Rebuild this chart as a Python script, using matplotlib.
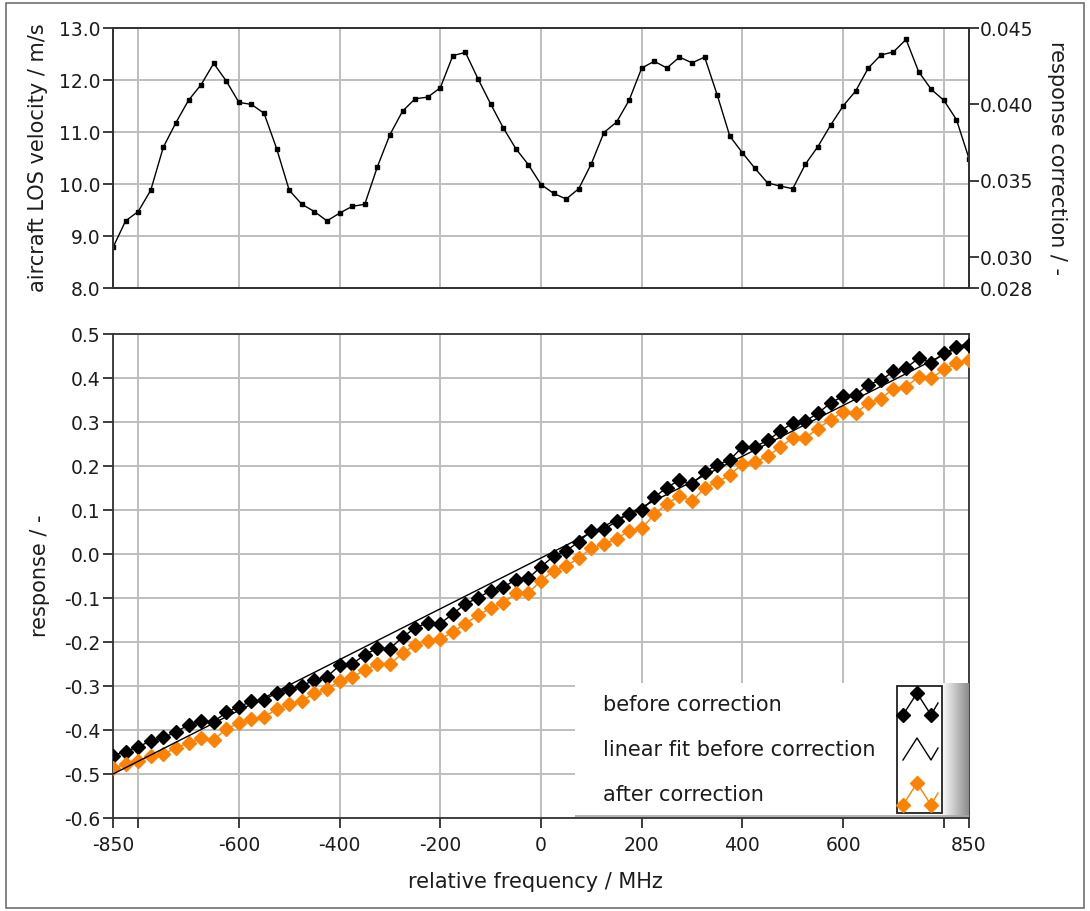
import matplotlib
matplotlib.use('Agg')
import matplotlib.pyplot as plt
import numpy as np
from matplotlib.patches import Rectangle

# relative frequency / MHz (25 MHz steps)
freq = np.arange(-850, 851, 25)

# aircraft LOS velocity / m/s
velocity = [8.78, 9.29, 9.47, 9.88, 10.71, 11.18, 11.61, 11.91, 12.32, 11.98,
            11.57, 11.53, 11.36, 10.68, 9.88, 9.61, 9.47, 9.29, 9.44, 9.57,
            9.61, 10.33, 10.95, 11.40, 11.64, 11.67, 11.85, 12.47, 12.53, 12.02,
            11.54, 11.08, 10.68, 10.37, 9.99, 9.82, 9.71, 9.91, 10.39, 10.99,
            11.19, 11.61, 12.23, 12.36, 12.23, 12.44, 12.33, 12.44, 11.71, 10.92,
            10.60, 10.30, 10.02, 9.96, 9.91, 10.38, 10.72, 11.13, 11.50, 11.79,
            12.23, 12.48, 12.54, 12.78, 12.16, 11.82, 11.61, 11.24, 10.49]

# response before correction
before = [-0.458, -0.449, -0.438, -0.425, -0.417, -0.405, -0.388, -0.380, -0.381, -0.360,
          -0.347, -0.335, -0.332, -0.315, -0.306, -0.300, -0.286, -0.279, -0.253, -0.250,
          -0.229, -0.214, -0.215, -0.189, -0.168, -0.156, -0.158, -0.136, -0.113, -0.100,
          -0.083, -0.076, -0.058, -0.055, -0.029, -0.005, 0.007, 0.028, 0.053, 0.056,
          0.074, 0.092, 0.099, 0.129, 0.151, 0.168, 0.158, 0.186, 0.203, 0.214,
          0.243, 0.244, 0.258, 0.279, 0.298, 0.302, 0.320, 0.343, 0.359, 0.361,
          0.385, 0.395, 0.415, 0.423, 0.445, 0.435, 0.456, 0.470, 0.476]

# response after correction
after = [-0.487, -0.478, -0.471, -0.460, -0.455, -0.441, -0.429, -0.419, -0.423, -0.397,
         -0.385, -0.376, -0.370, -0.353, -0.342, -0.333, -0.317, -0.307, -0.288, -0.280,
         -0.264, -0.250, -0.250, -0.226, -0.206, -0.198, -0.194, -0.177, -0.158, -0.139,
         -0.123, -0.111, -0.089, -0.088, -0.061, -0.038, -0.027, -0.010, 0.014, 0.022,
         0.034, 0.053, 0.058, 0.090, 0.114, 0.132, 0.120, 0.150, 0.164, 0.179,
         0.205, 0.209, 0.222, 0.243, 0.264, 0.264, 0.285, 0.305, 0.323, 0.320,
         0.343, 0.353, 0.376, 0.380, 0.403, 0.399, 0.420, 0.433, 0.441]

# linear fit before correction (end points)
fit_x = [-850, 850]
fit_y = [-0.500, 0.482]

x_ticks = [-850, -800, -600, -400, -200, 0, 200, 400, 600, 800, 850]
x_labels = ['-850', '', '-600', '-400', '-200', '0', '200', '400', '600', '', '850']
vel_ticks = [8, 9, 10, 11, 12, 13]
corr_ticks = [0.028, 0.030, 0.035, 0.040, 0.045]
resp_ticks = [-0.6, -0.5, -0.4, -0.3, -0.2, -0.1, 0.0, 0.1, 0.2, 0.3, 0.4, 0.5]
legend_labels = ['before correction', 'linear fit before correction', 'after correction']

W, H = 1090, 911
ORANGE = '#fd8204'
GRID = '#bebebe'
TXT = '#1c1c1c'
TICK_FS = 13.5
TITLE_FS = 15


def px_rect(l, t, r, b):
    return [l / W, 1 - b / H, (r - l) / W, (b - t) / H]


plt.rcParams['font.family'] = ['DejaVu Sans']
plt.rcParams['font.size'] = TICK_FS

fig = plt.figure(figsize=(W / 100, H / 100), dpi=100)
fig.patches.append(Rectangle((6 / W, 3 / H), 1 - 12 / W, 1 - 6 / H,
                             transform=fig.transFigure, fill=False,
                             ec='#707070', lw=1.2))

# ---- top panel: velocity / response correction
ax1 = fig.add_axes(px_rect(113, 28, 969, 288))
ax1.plot(freq, velocity, color='black', lw=1, marker='s', ms=3)
ax1.set_xlim(-850, 850)
ax1.set_ylim(8, 13)
ax1.set_xticks(x_ticks)
ax1.tick_params(axis='x', length=0, labelbottom=False)
ax1.set_yticks(vel_ticks)
ax1.set_yticklabels(['%.1f' % v for v in vel_ticks])
ax1.tick_params(axis='y', direction='out', length=7, width=1.2, colors=TXT, pad=2)
ax1.grid(True, color=GRID, lw=1.4)
ax1.set_axisbelow(True)

ax1r = ax1.twinx()
ax1r.set_ylim(0.028, 0.045)
ax1r.set_yticks(corr_ticks)
ax1r.set_yticklabels(['%.3f' % v for v in corr_ticks])
ax1r.tick_params(axis='y', direction='out', length=7, width=1.2, colors=TXT, pad=1)
for ax in (ax1, ax1r):
    for s in ax.spines.values():
        s.set_color('#333333')
        s.set_linewidth(1.3)

# ---- bottom panel: response
ax2 = fig.add_axes(px_rect(113, 334, 969, 818))
ax2.plot(freq, before, color='black', lw=1, marker='D', ms=7.5, zorder=3)
ax2.plot(fit_x, fit_y, color='black', lw=1, zorder=4)
ax2.plot(freq, after, color=ORANGE, lw=1, marker='D', ms=7.5, zorder=3)
ax2.set_xlim(-850, 850)
ax2.set_ylim(-0.6, 0.5)
ax2.set_xticks(x_ticks)
ax2.set_xticklabels(x_labels)
ax2.set_yticks(resp_ticks)
ax2.set_yticklabels(['%.1f' % v for v in resp_ticks])
ax2.tick_params(direction='out', length=7, width=1.2, colors=TXT)
ax2.tick_params(axis='x', pad=6)
ax2.tick_params(axis='y', pad=2)
ax2.grid(True, color=GRID, lw=1.4)
ax2.set_axisbelow(True)
for s in ax2.spines.values():
    s.set_color('#333333')
    s.set_linewidth(1.3)

# axis titles
fig.text(38 / W, 1 - 158 / H, 'aircraft LOS velocity / m/s', rotation=90,
         ha='center', va='center', color=TXT, fontsize=TITLE_FS)
fig.text(1057 / W, 1 - 158 / H, 'response correction / -', rotation=270,
         ha='center', va='center', color=TXT, fontsize=TITLE_FS)
fig.text(40 / W, 1 - 576 / H, 'response / -', rotation=90,
         ha='center', va='center', color=TXT, fontsize=TITLE_FS)
fig.text(535 / W, 1 - 882 / H, 'relative frequency / MHz',
         ha='center', va='center', color=TXT, fontsize=TITLE_FS)

# ---- legend (LabVIEW style plot legend)
lax = fig.add_axes(px_rect(575, 683, 969, 817))
lax.set_xlim(0, 394)
lax.set_ylim(134, 0)
lax.axis('off')
lax.add_patch(Rectangle((0, 0), 394, 134, fc='white', ec='none', zorder=0))
grad = np.linspace(1.0, 0.55, 60)[None, :]
lax.imshow(grad, cmap='gray', vmin=0, vmax=1, aspect='auto',
           extent=(366, 394, 134, 0), zorder=1)
lax.plot([0, 394], [133, 133], color='#a8a8a8', lw=1.2, zorder=2)
lax.add_patch(Rectangle((322, 3), 45, 127, fc='white', ec='#222222', lw=1.3, zorder=2))

row_y = [22, 67, 112]
for lbl, y in zip(legend_labels, row_y):
    lax.text(28, y, lbl, ha='left', va='center', color=TXT, fontsize=TITLE_FS)

zig_x = [328, 342, 356, 363]
zig_dy = [10, -12, 10, -2]
lax.plot(zig_x, [row_y[0] + d for d in zig_dy], color='black', lw=1, zorder=3)
lax.plot(zig_x[:3], [row_y[0] + d for d in zig_dy[:3]], ls='none', marker='D',
         ms=7, color='black', zorder=3)
lax.plot(zig_x, [row_y[1] + d for d in zig_dy], color='black', lw=1, zorder=3)
lax.plot(zig_x, [row_y[2] + d for d in zig_dy], color=ORANGE, lw=1, zorder=3)
lax.plot(zig_x[:3], [row_y[2] + d for d in zig_dy[:3]], ls='none', marker='D',
         ms=7, color=ORANGE, zorder=3)

fig.savefig('out.png', dpi=100)
